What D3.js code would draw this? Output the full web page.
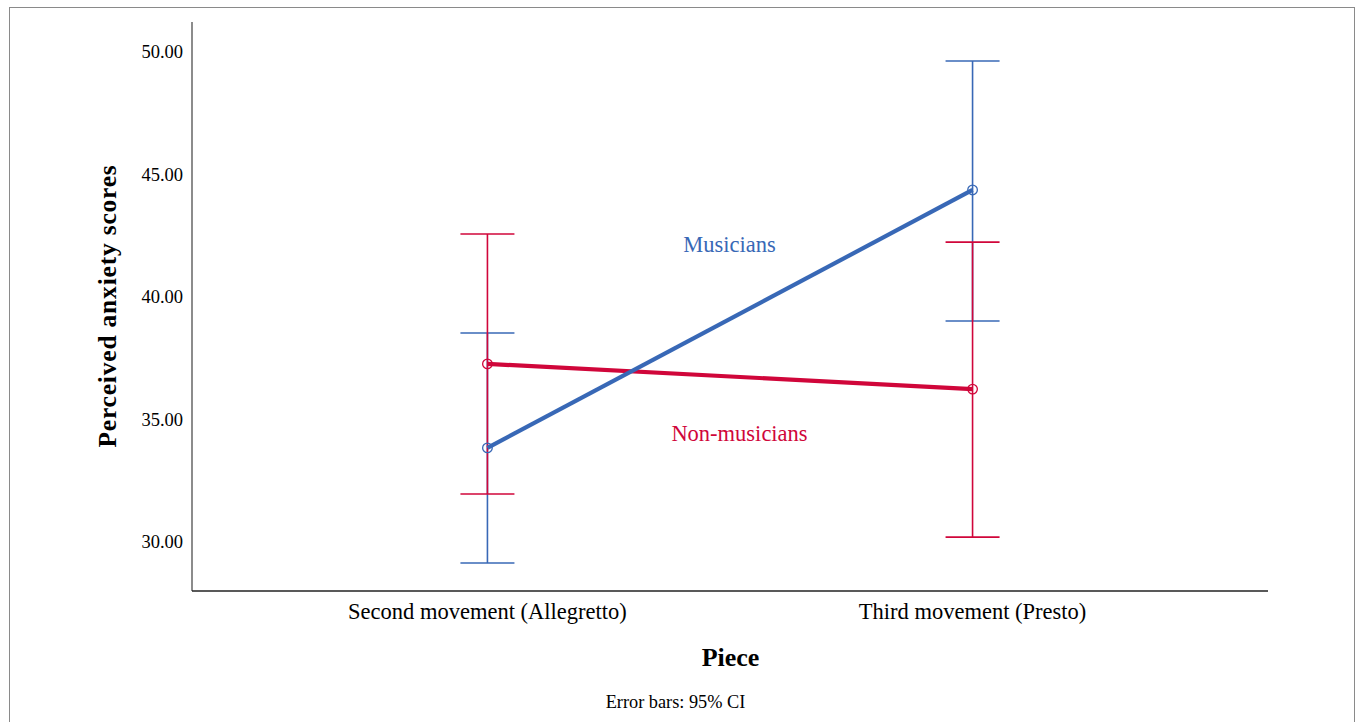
<!DOCTYPE html>
<html>
<head>
<meta charset="utf-8">
<script src="https://cdn.jsdelivr.net/npm/d3@7"></script>
<style>
  html, body { margin: 0; padding: 0; background: #fff; }
  svg { display: block; font-family: "Liberation Serif", "Times New Roman", serif; }
</style>
</head>
<body>
<svg id="chart" width="1357" height="722"></svg>
<script>
const categories = ["Second movement (Allegretto)", "Third movement (Presto)"];
const seriesNames = ["Musicians", "Non-musicians"];
const musiciansMean = [33.84, 44.37];
const musiciansLow = [29.14, 39.02];
const musiciansHigh = [38.53, 49.63];
const nonMusiciansMean = [37.27, 36.24];
const nonMusiciansLow = [31.96, 30.20];
const nonMusiciansHigh = [42.57, 42.24];
const yTicks = [30, 35, 40, 45, 50];

(function () {
const colors = { "Musicians": "#3868b6", "Non-musicians": "#d0063a" };

const series = [
  { name: "Musicians", mean: musiciansMean, low: musiciansLow, high: musiciansHigh },
  { name: "Non-musicians", mean: nonMusiciansMean, low: nonMusiciansLow, high: nonMusiciansHigh }
];

const svg = d3.select("#chart");

// outer frame
svg.append("rect").attr("x", 9.5).attr("y", 7.5).attr("width", 1345).attr("height", 720)
  .attr("fill", "none").attr("stroke", "#8a8a8a").attr("stroke-width", 1);

const pLeft = 192, pRight = 1268, pTop = 22, pBottom = 591;

const x = d3.scalePoint().domain(categories).range([pLeft, pRight]).padding(0.609);
const y = d3.scaleLinear().domain([30, 50]).range([542, 52]);

// axes
svg.append("line").attr("x1", pLeft).attr("x2", pLeft).attr("y1", pTop).attr("y2", pBottom)
  .attr("stroke", "#666").attr("stroke-width", 1.5);
svg.append("line").attr("x1", pLeft).attr("x2", pRight).attr("y1", pBottom).attr("y2", pBottom)
  .attr("stroke", "#222").attr("stroke-width", 1.5);

// y tick labels
svg.selectAll(".ytick").data(yTicks).enter().append("text")
  .attr("x", pLeft - 9).attr("y", d => y(d)).attr("dy", "0.35em")
  .attr("text-anchor", "end").attr("font-size", 18.5).attr("fill", "#000")
  .text(d => d3.format(".2f")(d));

// x tick labels
svg.selectAll(".xtick").data(categories).enter().append("text")
  .attr("x", d => x(d)).attr("y", 619)
  .attr("text-anchor", "middle").attr("font-size", 22.5).attr("fill", "#000")
  .text(d => d);

// axis titles
svg.append("text").attr("x", 730.5).attr("y", 666).attr("text-anchor", "middle")
  .attr("font-size", 26).attr("font-weight", "bold").text("Piece");
svg.append("text").attr("transform", "translate(116,306) rotate(-90)")
  .attr("text-anchor", "middle").attr("font-size", 25.5).attr("font-weight", "bold")
  .attr("letter-spacing", 0.8)
  .text("Perceived anxiety scores");
svg.append("text").attr("x", 675.5).attr("y", 708).attr("text-anchor", "middle")
  .attr("font-size", 18.3).text("Error bars: 95% CI");

const capHalf = 27;

// error bars
series.forEach(s => {
  const g = svg.append("g");
  categories.forEach((c, i) => {
    const cx = x(c);
    g.append("line").attr("x1", cx).attr("x2", cx).attr("y1", y(s.low[i])).attr("y2", y(s.high[i]))
      .attr("stroke", colors[s.name]).attr("stroke-width", 1.6);
    [s.low[i], s.high[i]].forEach(v => {
      g.append("line").attr("x1", cx - capHalf).attr("x2", cx + capHalf).attr("y1", y(v)).attr("y2", y(v))
        .attr("stroke", colors[s.name]).attr("stroke-width", 1.6);
    });
  });
});

// lines
const line = d3.line().x((d, i) => x(categories[i])).y(d => y(d));
series.slice().reverse().forEach(s => {
  svg.append("path").datum(s.mean).attr("d", line)
    .attr("fill", "none").attr("stroke", colors[s.name]).attr("stroke-width", 4.2);
});

// markers
series.forEach(s => {
  svg.selectAll(null).data(s.mean).enter().append("circle")
    .attr("cx", (d, i) => x(categories[i])).attr("cy", d => y(d)).attr("r", 4.8)
    .attr("fill", "none").attr("stroke", colors[s.name]).attr("stroke-width", 1.3);
});

// series labels
svg.append("text").attr("x", 729.5).attr("y", 252).attr("text-anchor", "middle")
  .attr("font-size", 22.5).attr("fill", colors["Musicians"]).text(seriesNames[0]);
svg.append("text").attr("x", 739.5).attr("y", 441).attr("text-anchor", "middle")
  .attr("font-size", 22.5).attr("fill", colors["Non-musicians"]).text(seriesNames[1]);
})();
</script>
</body>
</html>
